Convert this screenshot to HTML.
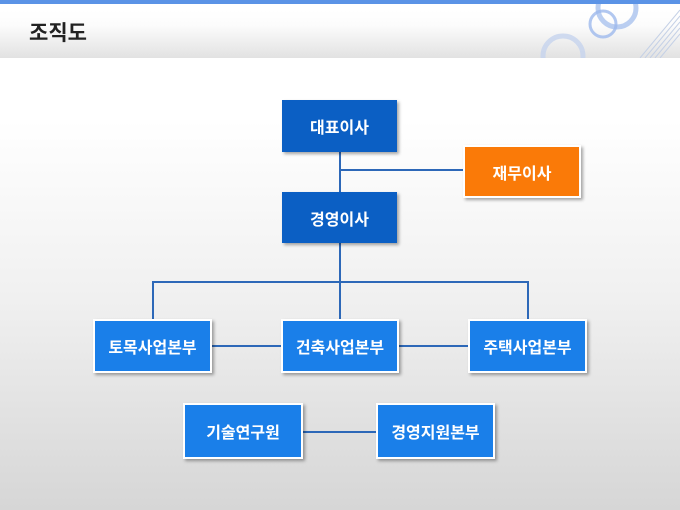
<!DOCTYPE html>
<html><head><meta charset="utf-8"><style>
body{margin:0;width:680px;height:510px;overflow:hidden;position:relative;font-family:"Liberation Sans","Noto Sans CJK KR",sans-serif;background:linear-gradient(#fff 0px,#fff 120px,#f0f0f0 300px,#d6d6d6 510px);}
.hdr{position:absolute;left:0;top:0;width:680px;height:58px;background:linear-gradient(#fff 10px,#fcfcfc 25px,#e2e2e2 58px);}
.bar{position:absolute;left:0;top:0;width:680px;height:4px;background:#5b93e6;}
.title{position:absolute;left:29px;top:17px;font-size:21px;font-weight:bold;color:#222;}
.b{position:absolute;color:#fff;font-weight:bold;font-size:16px;display:flex;align-items:center;justify-content:center;box-sizing:border-box;box-shadow:2px 2px 3px rgba(0,0,0,.35);}
.d{background:#0b5fc4;}
.l{background:#1a7fe9;border:2px solid #fff;}
.o{background:#fa7a08;border:2px solid #fff;}
.ln{position:absolute;background:#2d68b8;}
</style></head><body>
<div class="hdr"></div>
<svg style="position:absolute;left:0;top:0" width="680" height="58">
<circle cx="617" cy="8" r="19" fill="none" stroke="#a9c2ee" stroke-width="5" opacity=".8"/>
<circle cx="603" cy="24" r="13" fill="none" stroke="#9db9ec" stroke-width="3" opacity=".8"/>
<circle cx="563" cy="56" r="20" fill="none" stroke="#c6d3ee" stroke-width="5" opacity=".8"/>
<g stroke="#c4d0e6" stroke-width="1">
<line x1="640" y1="58" x2="680" y2="10"/><line x1="645" y1="58" x2="680" y2="16"/><line x1="650" y1="58" x2="680" y2="22"/><line x1="655" y1="58" x2="680" y2="28"/><line x1="660" y1="58" x2="680" y2="34"/>
</g></svg>
<div class="bar"></div>
<div class="title">조직도</div>

<div class="ln" style="left:339px;top:152px;width:2px;height:40px"></div>
<div class="ln" style="left:340px;top:169px;width:124px;height:2px"></div>
<div class="ln" style="left:339px;top:243px;width:2px;height:39px"></div>
<div class="ln" style="left:152px;top:281px;width:377px;height:2px;border-radius:2px"></div>
<div class="ln" style="left:152px;top:281px;width:2px;height:40px"></div>
<div class="ln" style="left:339px;top:281px;width:2px;height:40px"></div>
<div class="ln" style="left:527px;top:281px;width:2px;height:40px"></div>
<div class="ln" style="left:211px;top:345px;width:260px;height:2px"></div>
<div class="ln" style="left:302px;top:431px;width:76px;height:2px"></div>

<div class="b d" style="left:282px;top:100px;width:115px;height:52px">대표이사</div>
<div class="b o" style="left:463px;top:145px;width:118px;height:53px">재무이사</div>
<div class="b d" style="left:282px;top:192px;width:115px;height:51px">경영이사</div>
<div class="b l" style="left:93px;top:319px;width:119px;height:54px">토목사업본부</div>
<div class="b l" style="left:281px;top:319px;width:118px;height:54px">건축사업본부</div>
<div class="b l" style="left:468px;top:319px;width:119px;height:54px">주택사업본부</div>
<div class="b l" style="left:183px;top:403px;width:120px;height:56px">기술연구원</div>
<div class="b l" style="left:376px;top:403px;width:119px;height:56px">경영지원본부</div>
</body></html>
